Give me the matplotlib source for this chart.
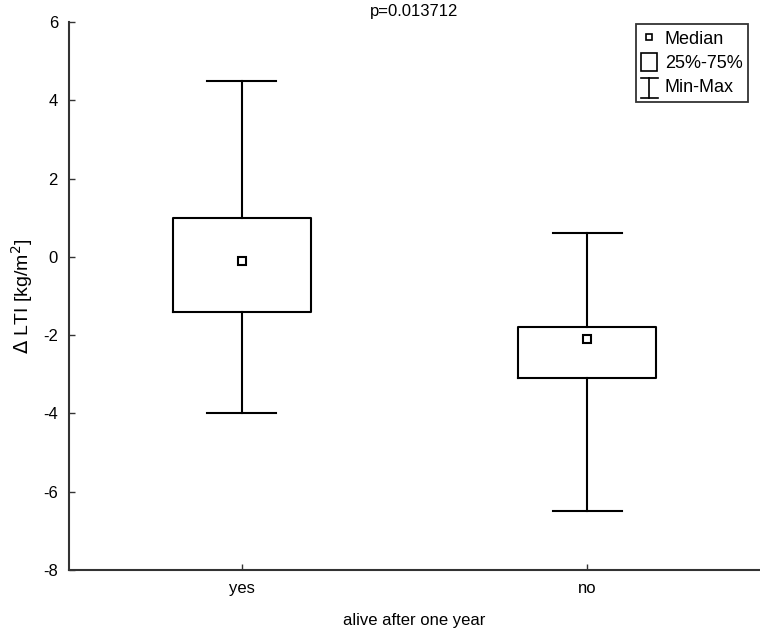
import matplotlib
matplotlib.use("Agg")
import matplotlib.pyplot as plt
from matplotlib.lines import Line2D
from matplotlib.patches import Rectangle
from matplotlib.legend_handler import HandlerBase

plt.rcParams['font.family'] = ['Liberation Sans Narrow', 'Liberation Sans', 'DejaVu Sans']
plt.rcParams['axes.unicode_minus'] = False

# =========================
# Dados
# =========================
grupos = ["yes", "no"]
mediana = [-0.1, -2.1]
q1 = [-1.4, -3.1]
q3 = [1.0, -1.8]
minimo = [-4.0, -6.5]
maximo = [4.5, 0.6]
titulo = "p=0.013712"


class HandlerMinMax(HandlerBase):
    # simbolo "I" da legenda (min-max)
    def create_artists(self, legend, orig_handle, xdescent, ydescent,
                       width, height, fontsize, trans):
        cx = width / 2 - xdescent
        y0 = -ydescent - 2
        y1 = height - ydescent
        w = 6
        kw = dict(color="black", lw=1.2, transform=trans)
        return [Line2D([cx, cx], [y0, y1], **kw),
                Line2D([cx - w, cx + w], [y0, y0], **kw),
                Line2D([cx - w, cx + w], [y1, y1], **kw)]


fig = plt.figure(figsize=(7.6, 6.4), dpi=100)
ax = fig.add_axes([69 / 760, 1 - 570 / 640, 1 - 69 / 760, (570 - 22) / 640])

stats = []
for i in range(len(grupos)):
    stats.append(dict(med=mediana[i], q1=q1[i], q3=q3[i],
                      whislo=minimo[i], whishi=maximo[i], fliers=[]))

pos = list(range(len(grupos)))
ax.bxp(stats, positions=pos, widths=0.4, capwidths=0.2, showfliers=False,
       boxprops=dict(color="black", lw=1.5),
       whiskerprops=dict(color="black", lw=1.5),
       capprops=dict(color="black", lw=1.5),
       medianprops=dict(visible=False))
ax.plot(pos, mediana, linestyle="none", marker="s", markersize=6,
        markerfacecolor="white", markeredgecolor="black", markeredgewidth=1.5)

ax.set_xlim(-0.5, 1.5)
ax.set_ylim(-8, 6)
ax.set_yticks(range(-8, 7, 2))
ax.set_xticks(pos)
ax.set_xticklabels(grupos)
ax.tick_params(direction="in", length=4, width=1, labelsize=12, pad=8,
               color="#333333")
for s in ["top", "right"]:
    ax.spines[s].set_visible(False)
for s in ["left", "bottom"]:
    ax.spines[s].set_linewidth(1.5)
    ax.spines[s].set_color("#333333")

ax.set_title(titulo, fontsize=12, pad=4)
ax.set_xlabel("alive after one year", fontsize=12, labelpad=12)
ax.set_ylabel(r"$\Delta$ LTI [kg/m$^2$]", fontsize=14, labelpad=6)

h_med = Line2D([], [], linestyle="none", marker="s", markersize=5,
               markerfacecolor="white", markeredgecolor="black", markeredgewidth=1.2)
h_box = Rectangle((0, 0), 1, 1, facecolor="white", edgecolor="black", lw=1.2)
h_mm = object()
leg = ax.legend([h_med, h_box, h_mm], ["Median", "25%-75%", "Min-Max"],
                loc="upper right", bbox_to_anchor=(0.985, 1.0),
                handler_map={h_mm: HandlerMinMax()},
                fontsize=13, frameon=True, fancybox=False, framealpha=1,
                edgecolor="#333333", handlelength=0.9, handleheight=1.1,
                handletextpad=0.4, borderpad=0.3, labelspacing=0.3,
                borderaxespad=0.1)
leg.get_frame().set_linewidth(1.3)

fig.savefig("out.png", dpi=100)
